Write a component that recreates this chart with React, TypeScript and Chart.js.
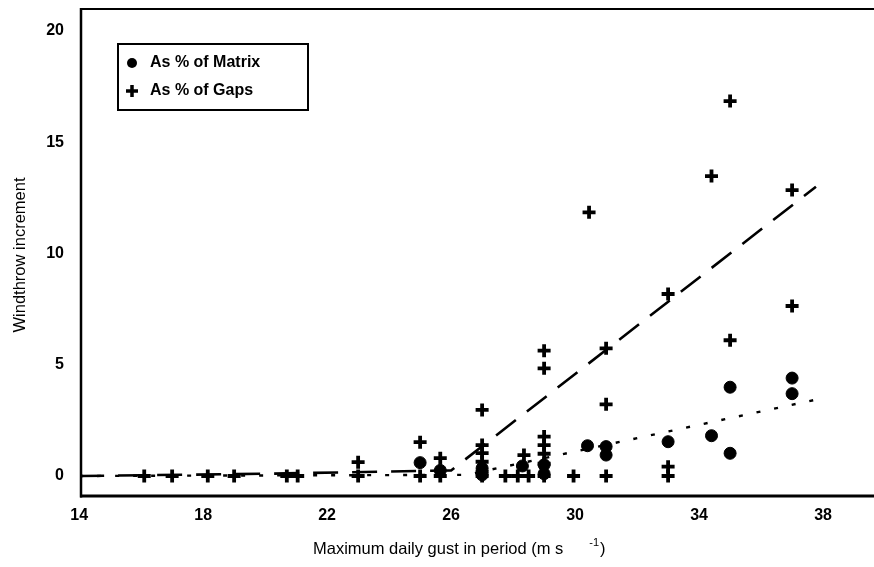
import React, { useEffect, useRef } from "react";
import { Chart, registerables } from "chart.js";

Chart.register(...registerables);

// ---- data ----
const xTickValues = [14, 18, 22, 26, 30, 34, 38];
const yTickValues = [0, 5, 10, 15, 20];

const seriesLabels = ["As % of Matrix", "As % of Gaps"];

const matrixX = [25.0, 25.65, 27.0, 27.0, 28.3, 29.0, 29.0, 30.4, 31.0, 31.0, 33.0, 34.4, 35.0, 35.0, 37.0, 37.0];
const matrixY = [0.6, 0.25, 0.35, 0.05, 0.45, 0.5, 0.1, 1.36, 1.32, 0.94, 1.54, 1.81, 3.99, 1.02, 4.4, 3.7];

const gapsX = [
  16.1, 17.0, 18.15, 19.0, 20.7, 21.05, 23.0, 23.0, 25.0, 25.0, 25.65, 25.65,
  27.0, 27.0, 27.0, 27.0, 27.0, 27.0, 27.75, 28.15, 28.35, 28.5,
  29.0, 29.0, 29.0, 29.0, 29.0, 29.0, 29.0, 29.95, 30.45,
  31.0, 31.0, 31.0, 33.0, 33.0, 33.0, 34.4, 35.0, 35.0, 37.0, 37.0,
];
const gapsY = [
  0, 0, 0, 0, 0, 0, 0.62, 0, 1.52, 0, 0.8, 0,
  2.97, 1.39, 1.03, 0.64, 0.2, 0, 0, 0, 0.94, 0,
  5.63, 4.84, 1.77, 1.39, 1.0, 0.55, 0, 0, 11.85,
  5.74, 3.22, 0, 8.18, 0.42, 0, 13.48, 16.85, 6.1, 12.85, 7.64,
];

const gapsFitX = [14, 20, 26, 37.77];
const gapsFitY = [0, 0.1, 0.25, 13.0];
const matrixFitX = [14, 26.5, 38.0];
const matrixFitY = [0, 0.05, 3.5];

const xTitleMain = "Maximum daily gust in period (m s";
const xTitleSup = "-1";
const xTitleEnd = ")";
const yTitle = "Windthrow increment";

const FONT = '"Liberation Sans", Arial, Helvetica, sans-serif';

const pts = (xs: number[], ys: number[]) => xs.map((x, i) => ({ x, y: ys[i] }));

const zeroPadding = (scale: any) => {
  scale.paddingTop = 0;
  scale.paddingBottom = 0;
  scale.paddingLeft = 0;
  scale.paddingRight = 0;
};

const framePlugin = {
  id: "frameAndText",
  afterDraw(chart: any) {
    const { ctx, chartArea, scales } = chart;
    const { left, right, top, bottom } = chartArea;
    ctx.save();
    ctx.strokeStyle = "#000";
    ctx.fillStyle = "#000";
    ctx.lineCap = "butt";
    // left
    ctx.lineWidth = 2.5;
    ctx.beginPath();
    ctx.moveTo(left, top - 1);
    ctx.lineTo(left, bottom + 1.5);
    ctx.stroke();
    // top
    ctx.lineWidth = 2;
    ctx.beginPath();
    ctx.moveTo(left - 1, top);
    ctx.lineTo(right + 2, top);
    ctx.stroke();
    // bottom
    ctx.lineWidth = 3;
    ctx.beginPath();
    ctx.moveTo(left - 1, bottom);
    ctx.lineTo(right + 2, bottom);
    ctx.stroke();

    // tick labels, positioned by the scales
    ctx.font = `bold 16px ${FONT}`;
    ctx.textBaseline = "middle";
    ctx.textAlign = "center";
    for (const t of scales.x.ticks) {
      ctx.fillText(String(t.value), scales.x.getPixelForValue(t.value), bottom + 20);
    }
    ctx.textAlign = "right";
    for (const t of scales.y.ticks) {
      ctx.fillText(String(t.value), left - 17, scales.y.getPixelForValue(t.value));
    }

    // legend
    const lx = 118, ly = 44, lw = 190, lh = 66;
    ctx.lineWidth = 2;
    ctx.strokeRect(lx, ly, lw, lh);
    ctx.beginPath();
    ctx.arc(132, 63, 5, 0, Math.PI * 2);
    ctx.fill();
    ctx.lineWidth = 3.5;
    ctx.beginPath();
    ctx.moveTo(126, 91);
    ctx.lineTo(138, 91);
    ctx.moveTo(132, 85);
    ctx.lineTo(132, 97);
    ctx.stroke();
    ctx.font = `bold 16px ${FONT}`;
    ctx.textBaseline = "middle";
    ctx.textAlign = "left";
    const labels = chart.data.datasets.filter((d: any) => d.inLegend).map((d: any) => d.label);
    ctx.fillText(labels[0], 150, 63);
    ctx.fillText(labels[1], 150, 91);

    // x title
    ctx.font = `16.5px ${FONT}`;
    const x0 = 313;
    const y0 = 549;
    ctx.fillText(xTitleMain, x0, y0);
    const w = ctx.measureText(xTitleMain).width;
    ctx.font = `11px ${FONT}`;
    const sx = x0 + w + 26;
    ctx.fillText(xTitleSup, sx, y0 - 6);
    const sw = ctx.measureText(xTitleSup).width;
    ctx.font = `16.5px ${FONT}`;
    ctx.fillText(xTitleEnd, sx + sw + 1, y0);

    // y title
    ctx.save();
    ctx.translate(20, 255);
    ctx.rotate(-Math.PI / 2);
    ctx.textAlign = "center";
    ctx.font = `16.5px ${FONT}`;
    ctx.fillText(yTitle, 0, 0);
    ctx.restore();

    ctx.restore();
  },
};

export default function App() {
  const canvasRef = useRef<HTMLCanvasElement | null>(null);

  useEffect(() => {
    if (!canvasRef.current) return;
    const chart = new Chart(canvasRef.current, {
      type: "scatter",
      data: {
        datasets: [
          {
            label: "Gaps fit",
            data: pts(gapsFitX, gapsFitY),
            showLine: true,
            borderColor: "#000",
            borderWidth: 2.6,
            borderDash: [25, 14],
            pointRadius: 0,
            tension: 0,
          } as any,
          {
            label: "Matrix fit",
            data: pts(matrixFitX, matrixFitY),
            showLine: true,
            borderColor: "#000",
            borderWidth: 2.4,
            borderDash: [4, 14],
            pointRadius: 0,
            tension: 0,
          } as any,
          {
            label: seriesLabels[0],
            inLegend: true,
            data: pts(matrixX, matrixY),
            pointStyle: "circle",
            pointRadius: 6,
            pointBorderWidth: 1,
            backgroundColor: "#000",
            borderColor: "#000",
          } as any,
          {
            label: seriesLabels[1],
            inLegend: true,
            data: pts(gapsX, gapsY),
            pointStyle: "cross",
            pointRadius: 6.5,
            pointBorderWidth: 3.8,
            backgroundColor: "#000",
            borderColor: "#000",
          } as any,
        ],
      },
      options: {
        animation: false,
        responsive: false,
        devicePixelRatio: 1,
        layout: { autoPadding: false, padding: { top: 9, right: 1, left: 0, bottom: 0 } },
        plugins: {
          legend: { display: false },
          tooltip: { enabled: false },
        },
        scales: {
          x: {
            type: "linear",
            min: 14.06,
            max: 39.61,
            grid: { display: false, drawTicks: false },
            border: { display: false },
            afterBuildTicks: (scale: any) => {
              scale.ticks = xTickValues.map((v) => ({ value: v }));
            },
            afterFit: (scale: any) => {
              scale.height = 71;
              zeroPadding(scale);
            },
            ticks: { display: false },
          },
          y: {
            type: "linear",
            min: -0.9,
            max: 20.99,
            grid: { display: false, drawTicks: false },
            border: { display: false },
            afterBuildTicks: (scale: any) => {
              scale.ticks = yTickValues.map((v) => ({ value: v }));
            },
            afterFit: (scale: any) => {
              scale.width = 81;
              zeroPadding(scale);
            },
            ticks: { display: false },
          },
        },
      } as any,
      plugins: [framePlugin],
    });
    return () => chart.destroy();
  }, []);

  return (
    <div style={{ position: "absolute", left: 0, top: 0, width: 874, height: 567, background: "#fff" }}>
      <canvas ref={canvasRef} width={874} height={567} style={{ display: "block" }} />
    </div>
  );
}
